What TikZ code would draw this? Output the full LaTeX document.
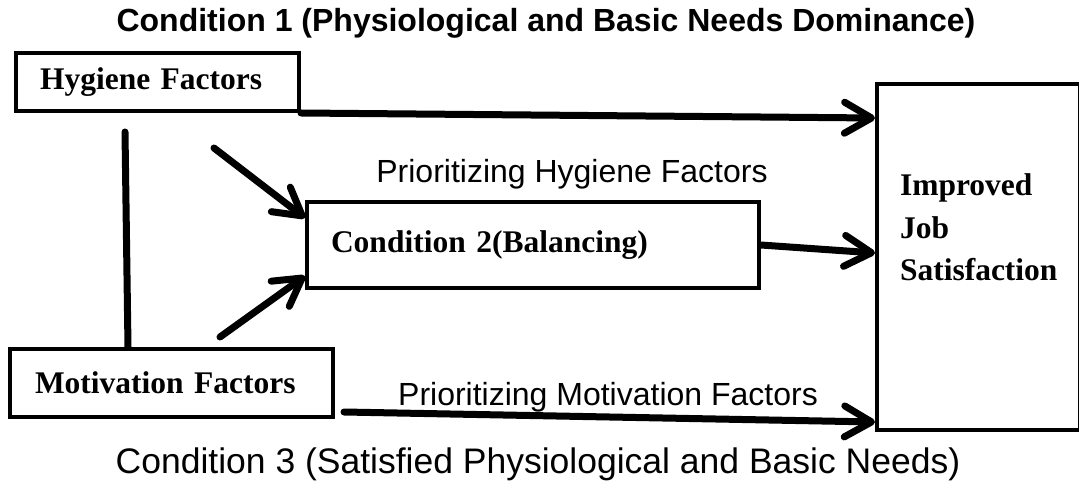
\documentclass[tikz,border=0pt]{standalone}
\usepackage{fontspec}
\setmainfont{Liberation Serif}
\setsansfont{Liberation Sans}
\usetikzlibrary{arrows.meta}

\tikzset{
  box/.style={draw, line width=4pt, rectangle, align=left, inner ysep=0pt,
    font=\fontsize{31.5}{42.5}\selectfont\bfseries},
  link/.style={line width=7pt, line cap=round, line join=round},
  flow/.style={link, -{Straight Barb[length=27pt, width=31pt, line join=round, line cap=round]}},
  caption/.style={font=\fontsize{32}{36}\selectfont\sffamily, inner sep=0pt}
}

\begin{document}
\begin{tikzpicture}[x=1pt, y=-1pt]
    \useasboundingbox (0,0) rectangle (1079,486);
    % headings
    \node[caption, anchor=base, font=\fontsize{32}{36}\selectfont\sffamily\bfseries] (title) at (546,32)
      {Condition 1 (Physiological and Basic Needs Dominance)};
    \node[caption, anchor=base, font=\fontsize{35.5}{40}\selectfont\sffamily] (cond3) at (538,473)
      {Condition 3 (Satisfied Physiological and Basic Needs)};
    % boxes
    \node[box, anchor=north west, minimum height=58pt, text width=235pt, inner xsep=24pt] (hyg) at (14,51) {Hygiene Factors};
    \node[box, anchor=north west, minimum height=68pt, text width=273pt, inner xsep=25pt] (mot) at (8,347) {Motivation Factors};
    \node[box, anchor=north west, minimum height=86pt, text width=404pt, inner xsep=24pt] (cond2) at (305,200) {Condition 2(Balancing)};
    \node[box, anchor=north west, minimum width=203pt, minimum height=346pt] (imp) at (875,82) {};
    \node[box, draw=none, anchor=north west, inner sep=0pt] (imptext) at (898,172) {Improved\\Job\\Satisfaction};
    % free ends
    \coordinate (vtop) at (125,132);
    \coordinate (vbot) at (128,347);
    \coordinate (d1) at (214,148);
    \coordinate (d2) at (220,337);
    % connectors
    \draw[link] (vtop) -- (vbot);
    \draw[flow] (d1) -- ([yshift=-18pt]cond2.north west);
    \draw[flow] (d2) -- ([yshift=14pt]cond2.south west);
    \draw[flow] (hyg.south east) -- ([yshift=-36pt]imp.north west);
    \draw[flow] (cond2.east) -- ([yshift=4pt]imp.west);
    \draw[flow] ([xshift=9pt,yshift=7pt]mot.south east) -- ([yshift=10pt]imp.south west);
    \node[caption, anchor=base] (lblh) at (572,183) {Prioritizing Hygiene Factors};
    \node[caption, anchor=base] (lblm) at (608,405) {Prioritizing Motivation Factors};
\end{tikzpicture}
\end{document}
